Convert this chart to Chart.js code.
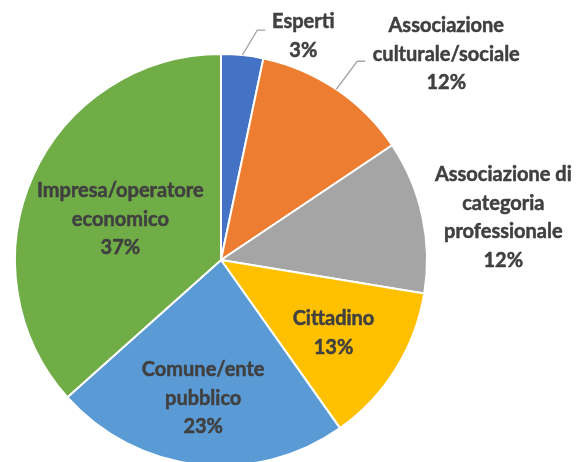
<!DOCTYPE html>
<html>
<head>
<meta charset="utf-8">
<script src="https://cdn.jsdelivr.net/npm/chart.js@4/dist/chart.umd.min.js"></script>
<style>
  html, body { margin: 0; padding: 0; background: #ffffff; overflow: hidden; width: 584px; height: 462px; }
  canvas { display: block; }
</style>
</head>
<body>
<canvas id="c" width="584" height="468"></canvas>
<script>
// ---- Data ----
const categories = [
  'Esperti',
  'Associazione culturale/sociale',
  'Associazione di categoria professionale',
  'Cittadino',
  'Comune/ente pubblico',
  'Impresa/operatore economico'
];
const labelLines = [
  ['Esperti'],
  ['Associazione', 'culturale/sociale'],
  ['Associazione di', 'categoria', 'professionale'],
  ['Cittadino'],
  ['Comune/ente', 'pubblico'],
  ['Impresa/operatore', 'economico']
];
const shares = [3.3, 12.3, 12.0, 12.6, 23.2, 36.6];
const percentLabels = ['3%', '12%', '12%', '13%', '23%', '37%'];
const colors = ['#4472C4', '#ED7D31', '#A5A5A5', '#FFC000', '#5B9BD5', '#70AD47'];

// ---- Label placement (style) ----
// f: fraction of radius along mid-angle; dx/dy: extra offset; leader: elbow points relative to arc point
const placement = [
  { f: 1.0, dx: 61, dy: -19, leader: [[15, -25], [23, -25]] },
  { f: 1.0, dx: 110, dy: -35, leader: [[21, -28], [29, -28]] },
  { f: 1.0, dx: 81, dy: 1, leader: null },
  { f: 0.65, dx: -1, dy: 2, leader: null },
  { f: 0.68, dx: -2, dy: -1, leader: null },
  { f: 0.53, dx: -1, dy: 4, leader: null }
];

const FONT = 'bold 20px Lato, "Open Sans", sans-serif';
const LINE_H = 28.5;

const labelPlugin = {
  id: 'pieLabels',
  afterDatasetsDraw(chart) {
    const ctx = chart.ctx;
    const meta = chart.getDatasetMeta(0);
    meta.data.forEach((arc, i) => {
      const p = placement[i];
      const mid = (arc.startAngle + arc.endAngle) / 2;
      const r = arc.outerRadius;
      const ax = arc.x + Math.cos(mid) * r * p.f;
      const ay = arc.y + Math.sin(mid) * r * p.f;
      const cx = ax + p.dx;
      const cy = ay + p.dy;
      ctx.save();
      if (p.leader) {
        ctx.strokeStyle = '#A6A6A6';
        ctx.lineWidth = 1.3;
        ctx.beginPath();
        ctx.moveTo(ax, ay);
        p.leader.forEach(pt => ctx.lineTo(ax + pt[0], ay + pt[1]));
        ctx.stroke();
      }
      const lines = labelLines[i].concat([percentLabels[i]]);
      ctx.font = FONT;
      ctx.fillStyle = '#404040';
      ctx.strokeStyle = '#404040';
      ctx.lineWidth = 0.5;
      ctx.lineJoin = 'round';
      ctx.textAlign = 'center';
      ctx.textBaseline = 'middle';
      const top = cy - (lines.length - 1) * LINE_H / 2;
      lines.forEach((t, k) => {
        ctx.fillText(t, cx, top + k * LINE_H);
        ctx.strokeText(t, cx, top + k * LINE_H);
      });
      ctx.restore();
    });
  }
};

new Chart(document.getElementById('c'), {
  type: 'pie',
  data: {
    labels: categories,
    datasets: [{
      data: shares,
      backgroundColor: colors,
      borderColor: '#ffffff',
      borderWidth: 2
    }]
  },
  options: {
    responsive: false,
    animation: false,
    layout: { padding: { left: 14, right: 156, top: 53, bottom: 1 } },
    plugins: {
      legend: { display: false },
      tooltip: { enabled: false }
    }
  },
  plugins: [labelPlugin]
});
</script>
</body>
</html>
